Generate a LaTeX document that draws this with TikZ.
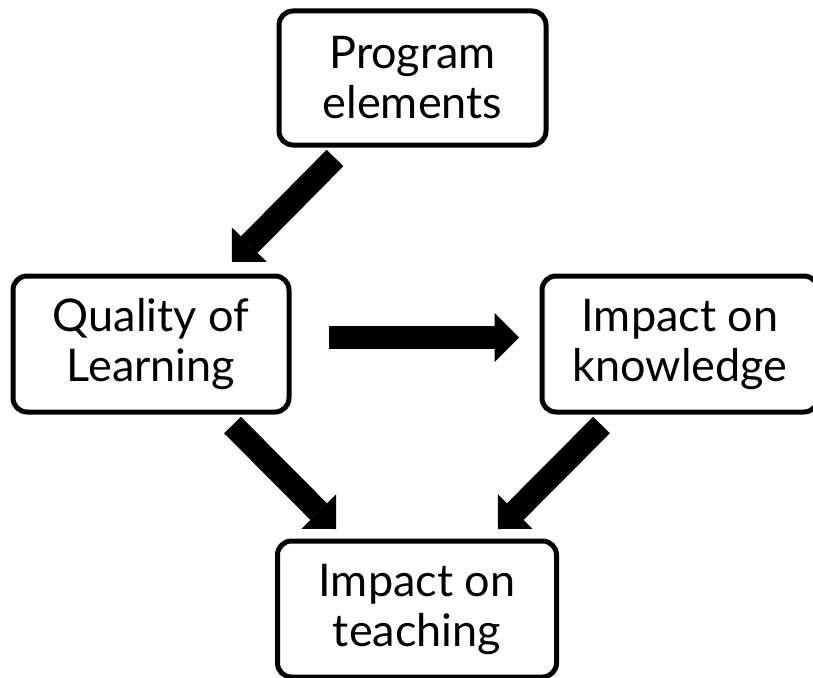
\documentclass[tikz,border=0pt]{standalone}
\usepackage{fontspec}
\setmainfont{Lato}
\usetikzlibrary{arrows.meta}
\begin{document}
\begin{tikzpicture}[x=1pt,y=-1pt,
  box/.style={draw, line width=5pt, rounded corners=14pt, align=center,
    inner sep=0pt, font=\fontsize{45}{50}\selectfont},
  flow/.style={line width=23.5pt,
    -{Triangle[width=49pt,length=24.5pt,line width=0pt]}}]
\useasboundingbox (0,0) rectangle (813,677);
\clip (0,0) rectangle (813,677);

% boxes
\node[box, minimum width=267pt, minimum height=134pt] (prog)  at (412.5,78) {Program\\elements};
\node[box, minimum width=276pt, minimum height=136pt] (qual)  at (151,344)  {Quality of\\Learning};
\node[box, minimum width=276pt, minimum height=136pt] (know)  at (680,344)  {Impact on\\knowledge};
\node[box, minimum width=279pt, minimum height=136pt] (teach) at (417,609)  {Impact on\\teaching};

% arrow ends
\coordinate (p-from) at (335,158);
\coordinate (p-to)   at (232,262);
\coordinate (q-from) at (329,337.5);
\coordinate (q-to)   at (519,337.5);
\coordinate (qt-from) at (232.5,425);
\coordinate (qt-to)   at (336,529);
\coordinate (kt-from) at (601.5,425);
\coordinate (kt-to)   at (498,529);

% block arrows
\draw[flow] (p-from) -- (p-to);
\draw[flow] (q-from) -- (q-to);
\draw[flow] (qt-from) -- (qt-to);
\draw[flow] (kt-from) -- (kt-to);
\end{tikzpicture}
\end{document}
